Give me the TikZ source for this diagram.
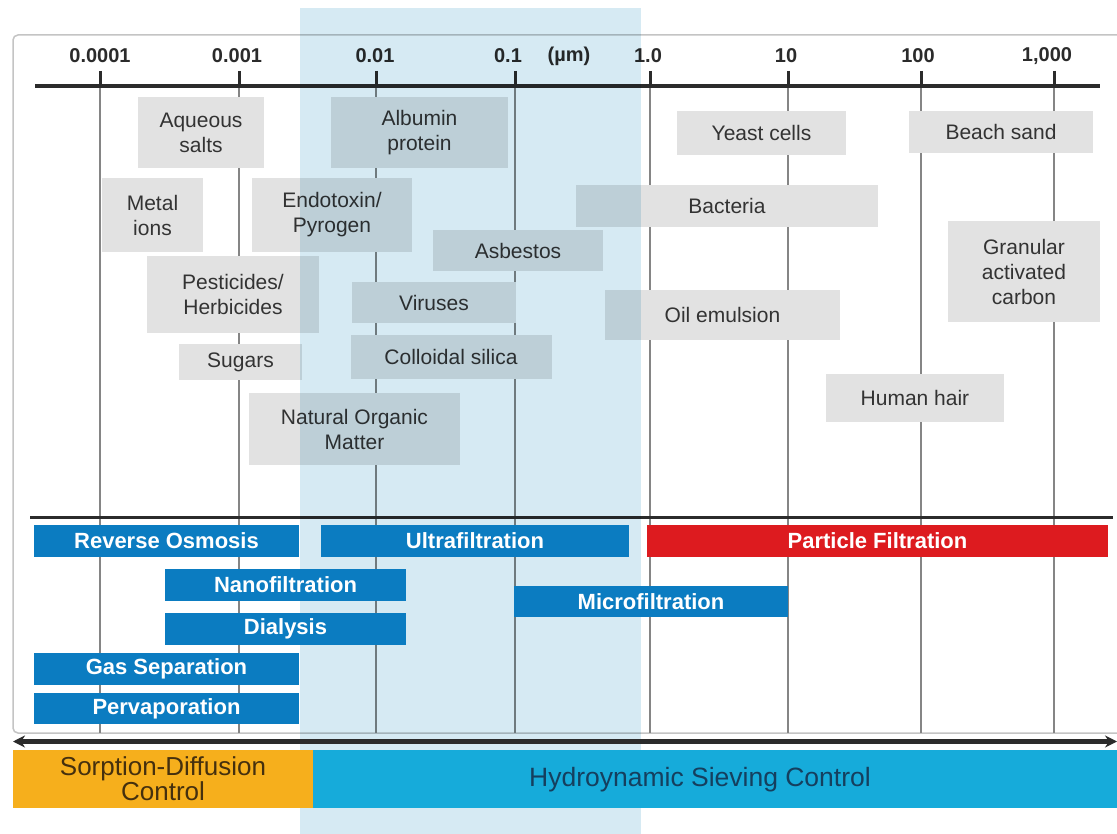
\documentclass[tikz,border=0pt]{standalone}
\usepackage{fontspec}
\setmainfont{Liberation Sans}
\usetikzlibrary{arrows.meta}
\definecolor{bandblue}{HTML}{D6EAF3}
\definecolor{boxgray}{HTML}{E2E2E2}
\definecolor{gridgray}{HTML}{858585}
\definecolor{framegray}{HTML}{C4C4C4}
\definecolor{axisdark}{HTML}{2B2B2B}
\definecolor{labeltext}{HTML}{333333}
\definecolor{procblue}{HTML}{0B7CC1}
\definecolor{procred}{HTML}{DD1B1F}
\definecolor{sorporange}{HTML}{F6AF1C}
\definecolor{sievecyan}{HTML}{16ABDA}
\definecolor{sorptext}{HTML}{45300E}
\definecolor{sievetext}{HTML}{153F5E}
\tikzset{
  gbox/.style={fill=boxgray, inner sep=0pt, align=center, text=labeltext,
    font=\fontsize{21}{25}\selectfont},
  pbox/.style={fill=procblue, inner sep=0pt, text=white,
    font=\fontsize{22}{26}\selectfont\bfseries},
  tlabel/.style={inner sep=0pt, text=axisdark, font=\fontsize{20}{24}\selectfont\bfseries},
  gridline/.style={draw=gridgray, line width=1.4pt},
  tickmark/.style={draw=axisdark, line width=3pt},
  axisline/.style={draw=axisdark, line width=3.5pt},
}
\begin{document}
\begin{tikzpicture}[x=1pt,y=-1pt]
\useasboundingbox (0,0) rectangle (1117,834);
\clip (0,0) rectangle (1117,834);
\fill[white] (0,0) rectangle (1117,834);

% frame
\draw[framegray, line width=1.5pt, rounded corners=5pt] (13,35) rectangle (1140,733);

% grid lines and ticks
\foreach \x/\n in {100/a,239/b,376/c,515/d,650/e,788/f,921/g,1054/h}{
  \coordinate (gt\n) at (\x,85);
  \coordinate (gb\n) at (\x,733);
  \coordinate (tk\n) at (\x,71);
  \draw[gridline] (gt\n) -- (gb\n);
  \draw[tickmark] (tk\n) -- (gt\n);
}
% axis lines
\coordinate (axL) at (35,86);
\coordinate (axR) at (1100,86);
\draw[axisline] (axL) -- (axR);
\coordinate (sepL) at (30,517);
\coordinate (sepR) at (1113,517);
\draw[axisline, line width=3pt] (sepL) -- (sepR);

% tick labels
\node[tlabel] (l1) at (100,56) {0.0001};
\node[tlabel] (l2) at (237,56) {0.001};
\node[tlabel] (l3) at (375,56) {0.01};
\node[tlabel] (l4) at (508,56) {0.1};
\node[tlabel] (lu) at (569,56) {(µm)};
\node[tlabel] (l5) at (648,56) {1.0};
\node[tlabel] (l6) at (786,56) {10};
\node[tlabel] (l7) at (918,56) {100};
\node[tlabel] (l8) at (1047,56) {1,000};

% particle boxes
\node[gbox, minimum width=126pt, minimum height=71pt] (aq) at (201,132.5) {Aqueous\\salts};
\node[gbox, minimum width=177pt, minimum height=71pt] (alb) at (419.5,132.5) {Albumin\\protein};
\node[gbox, minimum width=169pt, minimum height=44pt] (yeast) at (761.5,133) {Yeast cells};
\node[gbox, minimum width=184pt, minimum height=42pt] (sand) at (1001,132) {Beach sand};
\node[gbox, minimum width=101pt, minimum height=74pt] (metal) at (152.5,215) {Metal\\ions};
\node[gbox, minimum width=160pt, minimum height=74pt] (endo) at (332,215) {Endotoxin/\\Pyrogen};
\node[gbox, minimum width=302pt, minimum height=42pt] (bact) at (727,206) {Bacteria};
\node[gbox, minimum width=170pt, minimum height=41pt] (asb) at (518,250.5) {Asbestos};
\node[gbox, minimum width=152pt, minimum height=101pt] (gac) at (1024,271.5) {Granular\\activated\\carbon};
\node[gbox, minimum width=172pt, minimum height=77pt] (pest) at (233,294.5) {Pesticides/\\Herbicides};
\node[gbox, minimum width=164pt, minimum height=41pt] (vir) at (434,302.5) {Viruses};
\node[gbox, minimum width=235pt, minimum height=50pt] (oil) at (722.5,315) {Oil emulsion};
\node[gbox, minimum width=123pt, minimum height=36pt] (sug) at (240.5,362) {Sugars};
\node[gbox, minimum width=201pt, minimum height=44pt] (coll) at (451,357) {Colloidal silica};
\node[gbox, minimum width=178pt, minimum height=48pt] (hair) at (915,398) {Human hair};
\node[gbox, minimum width=211pt, minimum height=72pt] (nom) at (354.5,429) {Natural Organic\\Matter};

% translucent band
\coordinate (bandNW) at (300,8);
\coordinate (bandSE) at (641,834);
\fill[bandblue, blend mode=multiply] (bandNW) rectangle (bandSE);

% process boxes
\node[pbox, minimum width=265pt, minimum height=32pt] (ro) at (166.5,541) {Reverse Osmosis};
\node[pbox, minimum width=308pt, minimum height=32pt] (uf) at (475,541) {Ultrafiltration};
\node[pbox, fill=procred, minimum width=461pt, minimum height=32pt] (pf) at (877.5,541) {Particle Filtration};
\node[pbox, minimum width=241pt, minimum height=32pt] (nf) at (285.5,585) {Nanofiltration};
\node[pbox, minimum width=274pt, minimum height=31pt] (mf) at (651,601.5) {Microfiltration};
\node[pbox, minimum width=241pt, minimum height=32pt] (dia) at (285.5,629) {Dialysis};
\node[pbox, minimum width=265pt, minimum height=32pt] (gas) at (166.5,669) {Gas Separation};
\node[pbox, minimum width=265pt, minimum height=31pt] (perv) at (166.5,708.5) {Pervaporation};

% bottom arrow
\coordinate (arL) at (13,741.5);
\coordinate (arR) at (1117,741.5);
\draw[axisdark, line width=5pt, {Stealth[length=12pt,width=12pt]}-{Stealth[length=12pt,width=12pt]}] (arL) -- (arR);

% control regions
\node[fill=sorporange, inner sep=0pt, minimum width=300pt, minimum height=58pt] (sorp) at (163,779) {};
\node[align=center, text=sorptext, inner sep=0pt, font=\fontsize{26}{21}\selectfont] (sorpt) at (163,779) {Sorption-Diffusion\\Control};
\node[fill=sievecyan, inner sep=0pt, minimum width=804pt, minimum height=58pt] (sieve) at (715,779) {};
\node[text=sievetext, inner sep=0pt, font=\fontsize{26.5}{30}\selectfont] (sievet) at (700,780) {Hydroynamic Sieving Control};
\end{tikzpicture}
\end{document}
